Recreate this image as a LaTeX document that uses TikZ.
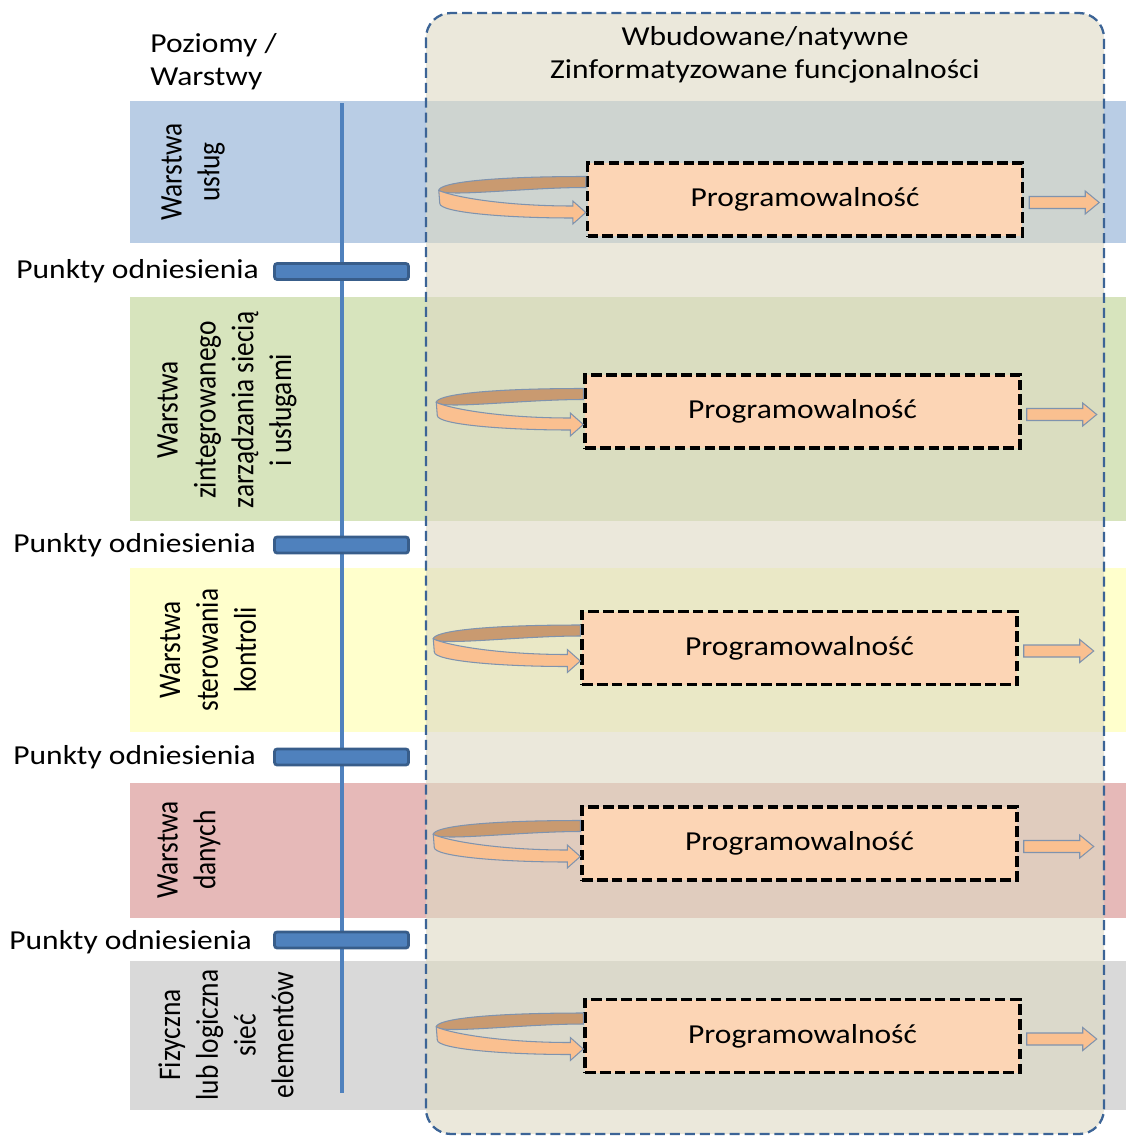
\documentclass[tikz,border=0pt]{standalone}
\usepackage{fontspec}
\setmainfont{Carlito}
\usetikzlibrary{positioning}
\definecolor{bandblue}{HTML}{B9CDE5}
\definecolor{bandgreen}{HTML}{D7E4BD}
\definecolor{bandyellow}{HTML}{FFFFCC}
\definecolor{bandred}{HTML}{E6B9B8}
\definecolor{bandgray}{HTML}{D9D9D9}
\definecolor{tanfill}{HTML}{DDD9C3}
\definecolor{frameblue}{HTML}{3C6496}
\definecolor{lineblue}{HTML}{4F81BD}
\definecolor{barline}{HTML}{385D8A}
\definecolor{peach}{HTML}{FCD5B5}
\definecolor{lightarr}{HTML}{FAC090}
\definecolor{darkarr}{HTML}{C99A70}
\definecolor{arrline}{HTML}{7F93AE}

\begin{document}
\begin{tikzpicture}[x=0.02cm,y=-0.02cm,
 lbl/.style={font=\fontsize{15.6}{18.7}\selectfont,xscale=1.15,inner sep=0pt},
 lay/.style={font=\fontsize{15.6}{18.7}\selectfont,rotate=90,yscale=1.15,align=center,inner sep=0pt},
 bar/.style={draw=barline,line width=1.6pt,fill=lineblue,rounded corners=1.5pt,minimum width=2.68cm,minimum height=0.32cm,inner sep=0pt},
 prog/.style={draw=black,dash pattern=on 6pt off 2.5pt,line width=2pt,fill=peach,minimum width=8.7cm,minimum height=1.46cm,inner sep=0pt},
 arr/.style={draw=arrline,line width=0.6pt}]
\useasboundingbox (0,0) rectangle (1126,1136);
% layer bands
\fill[bandblue] (130,101) rectangle (1126,243);
\fill[bandgreen] (130,297) rectangle (1126,521);
\fill[bandyellow] (130,568) rectangle (1126,732);
\fill[bandred] (130,783) rectangle (1126,918);
\fill[bandgray] (130,961) rectangle (1126,1110);
% built-in functions frame
\draw[frameblue,line width=1.3pt,dash pattern=on 5.7pt off 2.8pt,fill=tanfill,fill opacity=0.6,rounded corners=0.5cm]
 (426,13) rectangle (1104,1134);
\node[lbl,align=center] (title) at (765,55) {Wbudowane/natywne\\Zinformatyzowane funcjonalności};
\node[lbl,align=left,anchor=west] (levels) at (150,62) {Poziomy /\\Warstwy};
% axis and reference points
\coordinate (axtop) at (342,103);
\coordinate (axbot) at (342,1093);
\draw[lineblue,line width=2.3pt] (axtop)--(axbot);
\node[bar] (r1) at (341.5,271.5) {};
\node[bar] (r2) at (341.5,545) {};
\node[bar] (r3) at (341.5,757) {};
\node[bar] (r4) at (341.5,940) {};
\node[lbl,left=0.28cm of r1] (t1) {Punkty odniesienia};
\node[lbl,left=0.34cm of r2] (t2) {Punkty odniesienia};
\node[lbl,left=0.34cm of r3] (t3) {Punkty odniesienia};
\node[lbl,left=0.42cm of r4,yshift=-0.05cm] (t4) {Punkty odniesienia};
% layer names
\node[lay] (l1) at (193,172) {Warstwa\\usług};
\node[lay] (l2) at (227,410) {Warstwa\\zintegrowanego\\zarządzania siecią\\i usługami};
\node[lay] (l3) at (208,650) {Warstwa\\sterowania\\kontroli};
\node[lay] (l4) at (189,850) {Warstwa\\danych};
\node[lay] (l5) at (226,1035) {Fizyczna\\lub logiczna\\sieć\\elementów};
% programmability boxes
\node[prog] (p1) at (805,199.5) {};
\node[prog] (p2) at (802.5,411.5) {};
\node[prog] (p3) at (799.5,648) {};
\node[prog] (p4) at (799.5,843.5) {};
\node[prog] (p5) at (802.5,1036) {};
\foreach \i in {1,...,5}{
 \node[lbl] (pt\i) at (p\i) {Programowalność};
 \begin{scope}[shift={(p\i.west)}]
  \filldraw[arr,fill=darkarr] (0,-23) .. controls (-95,-23) and (-147,-17) .. (-147,-9)
   .. controls (-140,-2) and (-60,-12) .. (0,-12) -- cycle;
  \filldraw[arr,fill=lightarr] (-147,-9) .. controls (-130,-2) and (-80,6.5) .. (-13,6.5)
   -- (-13,1.5) -- (0,13) -- (-13,24.5) -- (-13,18.5)
   .. controls (-80,18.5) and (-146,13) .. (-146,4) -- cycle;
 \end{scope}
 \begin{scope}[shift={(p\i.east)}]
  \filldraw[arr,fill=lightarr] (5,-3) -- (61,-3) -- (61,-8.5) -- (75,3) -- (61,14.5) -- (61,9) -- (5,9) -- cycle;
 \end{scope}
}
\end{tikzpicture}
\end{document}
